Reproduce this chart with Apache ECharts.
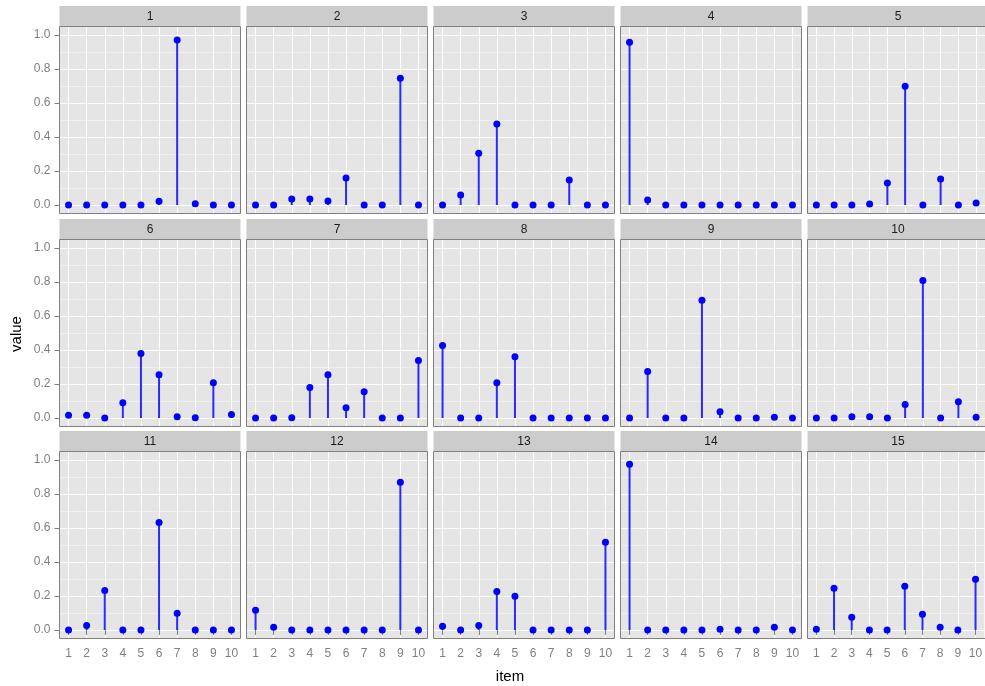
<!DOCTYPE html>
<html>
<head>
<meta charset="utf-8">
<script src="https://cdn.jsdelivr.net/npm/echarts@6/dist/echarts.min.js"></script>
<style>
  html, body { margin: 0; padding: 0; background: #fff; }
  #chart { width: 985px; height: 686px; }
</style>
</head>
<body>
<div id="chart"></div>
<script>
// item categories on the x axis of every panel
const items = ['1', '2', '3', '4', '5', '6', '7', '8', '9', '10']
const panelNames = ['1', '2', '3', '4', '5', '6', '7', '8', '9', '10', '11', '12', '13', '14', '15']

// values per panel
const p1 = [0, 0, 0, 0, 0, 0.022, 0.97, 0.008, 0, 0]
const p2 = [0, 0, 0.035, 0.035, 0.023, 0.159, 0, 0, 0.746, 0]
const p3 = [0, 0.059, 0.305, 0.476, 0, 0, 0, 0.147, 0, 0]
const p4 = [0.957, 0.029, 0, 0, 0, 0, 0, 0, 0, 0]
const p5 = [0, 0, 0, 0.006, 0.129, 0.699, 0, 0.153, 0, 0.012]
const p6 = [0.016, 0.016, 0, 0.09, 0.379, 0.255, 0.008, 0.002, 0.208, 0.02]
const p7 = [0, 0, 0.002, 0.179, 0.255, 0.061, 0.155, 0, 0, 0.338]
const p8 = [0.426, 0, 0, 0.208, 0.361, 0, 0, 0, 0, 0]
const p9 = [0, 0.273, 0, 0, 0.692, 0.037, 0, 0, 0.005, 0]
const p10 = [0, 0, 0.008, 0.008, 0, 0.079, 0.809, 0, 0.096, 0.004]
const p11 = [0, 0.027, 0.233, 0, 0, 0.633, 0.098, 0, 0, 0]
const p12 = [0.116, 0.016, 0, 0, 0, 0, 0, 0, 0.869, 0]
const p13 = [0.022, 0, 0.027, 0.227, 0.198, 0, 0, 0, 0, 0.516]
const p14 = [0.975, 0, 0, 0, 0, 0.004, 0, 0, 0.016, 0]
const p15 = [0.004, 0.245, 0.075, 0, 0, 0.257, 0.092, 0.016, 0, 0.298]
const panelValues = [p1, p2, p3, p4, p5, p6, p7, p8, p9, p10, p11, p12, p13, p14, p15]

// panel layout
const panelLeft = 59.5
const panelStep = 187
const panelW = 181
const rowTops = [26.5, 239.5, 451.5]
const panelH = 187
const stripH = 20.5

const grid = []
const xAxis = []
const yAxis = []
const series = []
const graphic = []

panelValues.forEach((vals, i) => {
  const col = i % 5
  const row = Math.floor(i / 5)
  const left = panelLeft + col * panelStep
  const top = rowTops[row]
  grid.push({
    left: left,
    top: top,
    width: panelW,
    height: panelH,
    show: true,
    backgroundColor: '#E5E5E5',
    borderWidth: 0
  })
  xAxis.push({
    type: 'category',
    gridIndex: i,
    data: items,
    boundaryGap: true,
    axisLine: { show: false },
    axisTick: {
      show: row === 2,
      alignWithLabel: true,
      length: 5,
      lineStyle: { color: '#7F7F7F' }
    },
    axisLabel: {
      show: row === 2,
      interval: 0,
      margin: 9,
      color: '#7F7F7F',
      fontSize: 12,
      fontFamily: 'Liberation Sans'
    },
    splitLine: {
      show: true,
      alignWithLabel: true,
      interval: 0,
      lineStyle: { color: '#FFFFFF', width: 1 }
    }
  })
  yAxis.push({
    type: 'value',
    gridIndex: i,
    min: -0.05,
    max: 1.05,
    splitNumber: 5,
    axisLine: { show: false },
    axisTick: { show: col === 0, length: 5, lineStyle: { color: '#7F7F7F' } },
    axisLabel: {
      show: col === 0,
      margin: 9,
      color: '#7F7F7F',
      fontSize: 12,
      fontFamily: 'Liberation Sans',
      showMinLabel: false,
      showMaxLabel: false,
      formatter: (v) => (Math.abs(v * 5 - Math.round(v * 5)) < 1e-6 && v >= 0 && v <= 1 ? v.toFixed(1) : '')
    },
    splitLine: { show: true, lineStyle: { color: '#FFFFFF', width: 1 } },
    minorTick: { show: false, splitNumber: 2 },
    minorSplitLine: { show: true, lineStyle: { color: '#F2F2F2', width: 0.8 } }
  })
  series.push({
    type: 'bar',
    xAxisIndex: i,
    yAxisIndex: i,
    data: vals,
    barWidth: 2,
    itemStyle: { color: '#2A2AFF', opacity: 1 },
    silent: true
  })
  series.push({
    type: 'scatter',
    xAxisIndex: i,
    yAxisIndex: i,
    data: vals,
    symbolSize: 7,
    clip: false,
    itemStyle: { color: '#0000FF', opacity: 1 },
    silent: true,
    z: 3
  })
  // facet strip
  graphic.push({
    type: 'group',
    left: left,
    top: top - stripH,
    children: [
      { type: 'rect', shape: { x: 0, y: 0, width: panelW, height: stripH }, style: { fill: '#CCCCCC' } },
      {
        type: 'text',
        x: panelW / 2,
        y: stripH / 2 + 0.5,
        style: {
          text: panelNames[i],
          fill: '#1A1A1A',
          fontSize: 12,
          fontFamily: 'Liberation Sans',
          align: 'center',
          verticalAlign: 'middle'
        }
      }
    ]
  })
  // panel border drawn above grid lines
  graphic.push({
    type: 'rect',
    z: 50,
    silent: true,
    shape: { x: left, y: top, width: panelW, height: panelH },
    style: { fill: null, stroke: '#808080', lineWidth: 1 }
  })
})

// axis titles
graphic.push({
  type: 'text',
  x: 510,
  y: 677,
  style: { text: 'item', fill: '#000', fontSize: 15, fontFamily: 'Liberation Sans', align: 'center', verticalAlign: 'middle' }
})
graphic.push({
  type: 'text',
  x: 17,
  y: 334,
  rotation: Math.PI / 2,
  style: { text: 'value', fill: '#000', fontSize: 15, fontFamily: 'Liberation Sans', align: 'center', verticalAlign: 'middle' }
})

const chart = echarts.init(document.getElementById('chart'), null, { renderer: 'canvas' })
chart.setOption({
  animation: false,
  backgroundColor: '#FFFFFF',
  grid: grid,
  xAxis: xAxis,
  yAxis: yAxis,
  series: series,
  graphic: graphic
})
</script>
</body>
</html>
